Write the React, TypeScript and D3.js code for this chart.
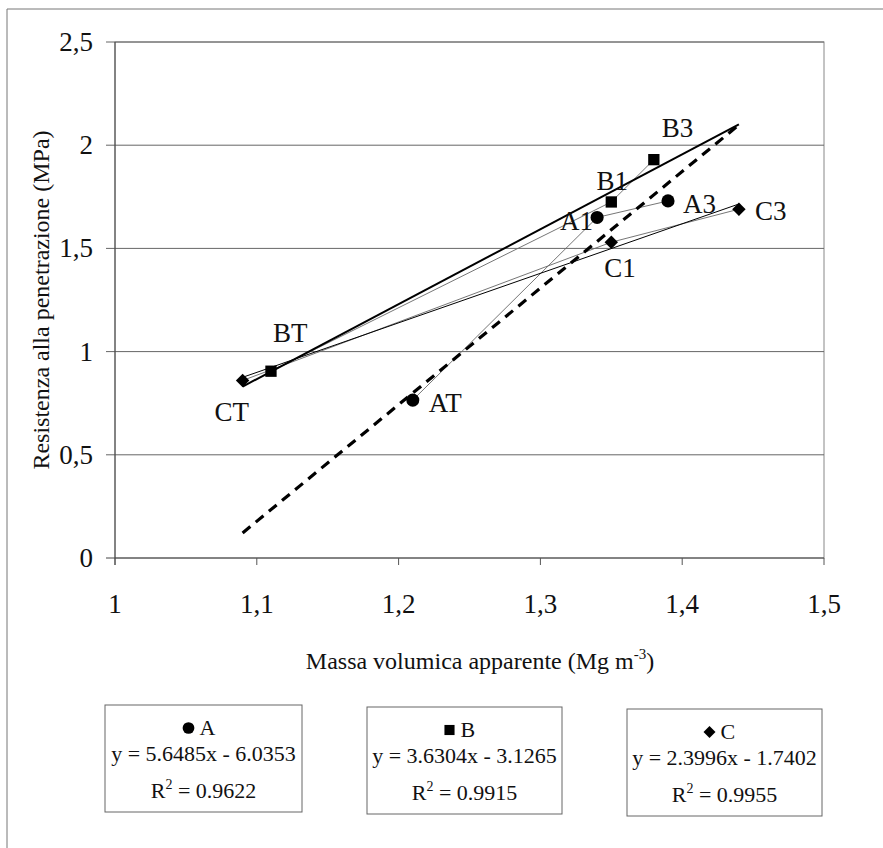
import React from "react";
import * as d3 from "d3";

// ---- data ----
const seriesNames = ["A", "B", "C"];
const xA = [1.21, 1.34, 1.39];
const yA = [0.765, 1.65, 1.73];
const labelsA = ["AT", "A1", "A3"];
const xB = [1.11, 1.35, 1.38];
const yB = [0.905, 1.725, 1.93];
const labelsB = ["BT", "B1", "B3"];
const xC = [1.09, 1.35, 1.44];
const yC = [0.86, 1.53, 1.69];
const labelsC = ["CT", "C1", "C3"];
const slopes = [5.6485, 3.6304, 2.3996];
const intercepts = [-6.0353, -3.1265, -1.7402];
const r2Values = ["0.9622", "0.9915", "0.9955"];
const trendRange = [1.09, 1.44];
const xTicks = [1, 1.1, 1.2, 1.3, 1.4, 1.5];
const yTicks = [0, 0.5, 1, 1.5, 2, 2.5];

// ---- styling (label offsets relative to their points) ----
const labelOffsets: Record<string, [number, number, string]> = {
  AT: [16, 12, "start"],
  A1: [-4, 13, "end"],
  A3: [15, 12, "start"],
  BT: [2, -29, "start"],
  B1: [1, -12, "middle"],
  B3: [8, -23, "start"],
  CT: [-28, 41, "start"],
  C1: [-7, 35, "start"],
  C3: [16, 11, "start"],
};

const W = 883;
const H = 848;
const plot = { left: 115, right: 824, top: 42, bottom: 558 };
const FONT = "'Liberation Serif', 'Times New Roman', serif";

export default function App() {
  const x = d3.scaleLinear().domain([1, 1.5]).range([plot.left, plot.right]);
  const y = d3.scaleLinear().domain([0, 2.5]).range([plot.bottom, plot.top]);
  const fmt = (v: number) => String(v).replace(".", ",");
  const line = d3
    .line<[number, number]>()
    .x((d) => x(d[0]))
    .y((d) => y(d[1]));

  const series = [
    { name: seriesNames[0], xs: xA, ys: yA, labels: labelsA, symbol: d3.symbolCircle, size: 135 },
    { name: seriesNames[1], xs: xB, ys: yB, labels: labelsB, symbol: d3.symbolSquare, size: 128 },
    { name: seriesNames[2], xs: xC, ys: yC, labels: labelsC, symbol: d3.symbolDiamond2, size: 115 },
  ];

  const trendStyles = [
    { width: 3.2, dash: "10,7" },
    { width: 2, dash: undefined },
    { width: 1, dash: undefined },
  ];

  const legendBoxes = [
    { x: 105, y: 705, w: 197, h: 107 },
    { x: 367, y: 707, w: 195, h: 107 },
    { x: 627, y: 709, w: 195, h: 107 },
  ];

  return (
    <svg
      width={W}
      height={H}
      style={{ position: "absolute", left: 0, top: 0, background: "#fff" }}
      fontFamily={FONT}
    >
      <rect x={0} y={0} width={W} height={H} fill="#fff" />
      {/* outer frame */}
      <line x1={7} y1={9} x2={W} y2={9} stroke="#777" strokeWidth={1} />
      <line x1={7} y1={9} x2={7} y2={H} stroke="#777" strokeWidth={1} />

      {/* plot border */}
      <rect
        x={plot.left}
        y={plot.top}
        width={plot.right - plot.left}
        height={plot.bottom - plot.top}
        fill="none"
        stroke="#888"
        strokeWidth={1}
      />
      {/* grid lines */}
      {yTicks.map((t) => (
        <line
          key={"g" + t}
          x1={plot.left - 9}
          x2={plot.right}
          y1={y(t)}
          y2={y(t)}
          stroke={t === 0 ? "#444" : "#666"}
          strokeWidth={1}
        />
      ))}
      <line x1={plot.left} x2={plot.left} y1={plot.top} y2={plot.bottom + 7} stroke="#444" strokeWidth={1} />
      {xTicks.map((t) => (
        <line key={"xt" + t} x1={x(t)} x2={x(t)} y1={plot.bottom} y2={plot.bottom + 7} stroke="#555" strokeWidth={1} />
      ))}
      {/* tick labels */}
      {yTicks.map((t) => (
        <text key={"yl" + t} x={plot.left - 22} y={y(t) + 9} fontSize={27} textAnchor="end" fill="#111">
          {fmt(t)}
        </text>
      ))}
      {xTicks.map((t) => (
        <text key={"xl" + t} x={x(t)} y={plot.bottom + 55} fontSize={27} textAnchor="middle" fill="#111">
          {fmt(t)}
        </text>
      ))}

      {/* axis titles */}
      <text
        transform={`translate(49, ${(plot.top + plot.bottom) / 2}) rotate(-90)`}
        fontSize={24}
        textAnchor="middle"
        fill="#111"
      >
        Resistenza alla penetrazione (MPa)
      </text>
      <text x={480} y={669} fontSize={24} textAnchor="middle" fill="#111">
        Massa volumica apparente (Mg m
        <tspan dy={-10} fontSize={15}>-3</tspan>
        <tspan dy={10}>)</tspan>
      </text>

      {/* series connecting lines */}
      {series.map((s) => (
        <path
          key={"sl" + s.name}
          d={line(s.xs.map((v, i) => [v, s.ys[i]] as [number, number])) || ""}
          fill="none"
          stroke="#666"
          strokeWidth={0.9}
        />
      ))}

      {/* trend lines */}
      {series.map((s, i) => (
        <path
          key={"tl" + s.name}
          d={
            line(
              trendRange.map((v) => [v, slopes[i] * v + intercepts[i]] as [number, number])
            ) || ""
          }
          fill="none"
          stroke="#000"
          strokeWidth={trendStyles[i].width}
          strokeDasharray={trendStyles[i].dash}
        />
      ))}

      {/* markers */}
      {series.map((s) =>
        s.xs.map((v, i) => (
          <path
            key={"m" + s.name + i}
            d={d3.symbol(s.symbol, s.size)() || ""}
            transform={`translate(${x(v)}, ${y(s.ys[i])})`}
            fill="#000"
          />
        ))
      )}

      {/* point labels */}
      {series.map((s) =>
        s.xs.map((v, i) => {
          const lab = s.labels[i];
          const [dx, dy, anchor] = labelOffsets[lab];
          return (
            <text
              key={"pl" + lab}
              x={x(v) + dx}
              y={y(s.ys[i]) + dy}
              fontSize={27}
              textAnchor={anchor as any}
              fill="#111"
            >
              {lab}
            </text>
          );
        })
      )}

      {/* legend boxes */}
      {series.map((s, i) => {
        const b = legendBoxes[i];
        const cx = b.x + b.w / 2;
        const eq = `y = ${slopes[i].toFixed(4)}x - ${Math.abs(intercepts[i]).toFixed(4)}`;
        return (
          <g key={"lg" + s.name}>
            <rect x={b.x} y={b.y} width={b.w} height={b.h} fill="#fff" stroke="#666" strokeWidth={1} />
            <path
              d={d3.symbol(s.symbol, s.size * 0.8)() || ""}
              transform={`translate(${cx - 15}, ${b.y + 23})`}
              fill="#000"
            />
            <text x={cx - 4} y={b.y + 30} fontSize={22} fill="#111">
              {s.name}
            </text>
            <text x={cx} y={b.y + 56} fontSize={22} textAnchor="middle" fill="#111">
              {eq}
            </text>
            <text x={cx} y={b.y + 93} fontSize={22} textAnchor="middle" fill="#111">
              R
              <tspan dy={-9} fontSize={14}>2</tspan>
              <tspan dy={9}>{` = ${r2Values[i]}`}</tspan>
            </text>
          </g>
        );
      })}
    </svg>
  );
}
